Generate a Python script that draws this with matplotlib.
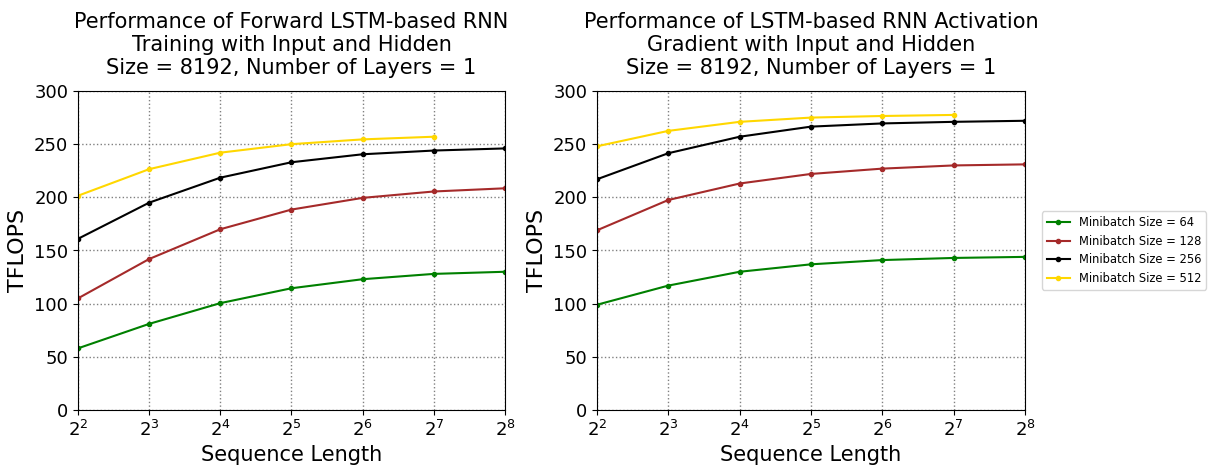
import matplotlib
matplotlib.use('Agg')
import numpy as np
import matplotlib.pyplot as plt

seq_len = [4, 8, 16, 32, 64, 128, 256]

# forward training (left)
fwd_64 = [58, 81, 100.5, 114.5, 123, 128, 130]
fwd_128 = [105, 142, 170, 188.5, 199.5, 205.5, 208.5]
fwd_256 = [161, 195, 218.5, 233, 240.5, 244, 246]
fwd_512 = [201.5, 226.5, 242, 250, 254.5, 257]

# activation gradient (right)
grad_64 = [99, 117, 130, 137, 141, 143, 144]
grad_128 = [169, 197.5, 213, 222, 227, 230, 231]
grad_256 = [217, 241.5, 257, 266.5, 269.5, 271, 272]
grad_512 = [248, 262.5, 271, 275, 276.5, 277.5]

labels = ['Minibatch Size = 64', 'Minibatch Size = 128',
          'Minibatch Size = 256', 'Minibatch Size = 512']
colors = ['green', 'brown', 'black', 'gold']

titles = ['Performance of Forward LSTM-based RNN\nTraining with Input and Hidden\nSize = 8192, Number of Layers = 1',
          'Performance of LSTM-based RNN Activation\nGradient with Input and Hidden\nSize = 8192, Number of Layers = 1']

fig = plt.figure(figsize=(12.17, 4.66), dpi=100)
ax1 = fig.add_axes([78/1217, 1-410/466, 427/1217, 319/466])
ax2 = fig.add_axes([597/1217, 1-410/466, 428/1217, 319/466])

for ax, series, title in [(ax1, [fwd_64, fwd_128, fwd_256, fwd_512], titles[0]),
                          (ax2, [grad_64, grad_128, grad_256, grad_512], titles[1])]:
    for vals, c, lab in zip(series, colors, labels):
        ax.plot(seq_len[:len(vals)], vals, color=c, marker='.', markersize=6,
                linewidth=1.5, label=lab)
    ax.set_xscale('log', base=2)
    ax.set_xlim(4, 256)
    ax.set_ylim(0, 300)
    ax.set_xticks(seq_len)
    ax.set_xticklabels(['$2^{%d}$' % int(np.log2(s)) for s in seq_len])
    ax.minorticks_off()
    ax.set_yticks(range(0, 301, 50))
    ax.tick_params(labelsize=13)
    ax.grid(True, linestyle=':', color='gray', linewidth=1)
    ax.set_xlabel('Sequence Length', fontsize=15)
    ax.set_ylabel('TFLOPS', fontsize=16)
    ax.set_title(title, fontsize=15, pad=12)

ax2.legend(loc='center left', bbox_to_anchor=(1.026, 0.5), fontsize=8.3)

plt.savefig('out.png', dpi=100)
